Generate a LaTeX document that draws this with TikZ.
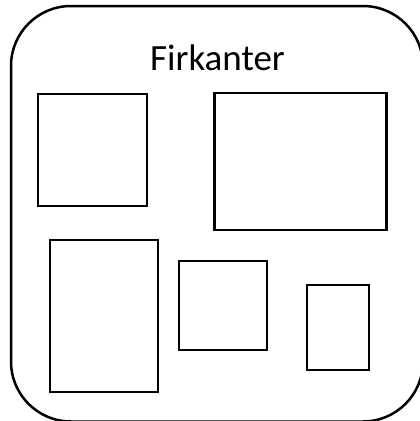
\documentclass[tikz,border=0pt]{standalone}
\usepackage{fontspec}
\setmainfont{Carlito}
\usetikzlibrary{positioning}

\begin{document}
\begin{tikzpicture}[
    x=1pt, y=-1pt,
    frame/.style={rectangle, draw=black, line width=2.5pt, rounded corners=60pt,
                  minimum width=412pt, minimum height=415.5pt, inner sep=0pt},
    square/.style={rectangle, draw=black, line width=2.5pt, inner sep=0pt},
    title/.style={font=\fontsize{37}{44}\selectfont, anchor=base, inner sep=0pt}
]
\useasboundingbox (0,0) rectangle (420,421);
\clip (0,0) rectangle (420,421);

% Container
\node[frame] (box) at (217, 213.75) {};
\node[title] (label) at (217.5, 70) {Firkanter};

% Rectangles
\node[square, minimum width=109pt, minimum height=112pt] (sq1) at (92.5, 150) {};
\node[square, minimum width=172pt, minimum height=137pt] (sq2) at (300.5, 161.5) {};
\node[square, minimum width=108pt, minimum height=152pt] (sq3) at (104, 316) {};
\node[square, minimum width=88pt, minimum height=89pt] (sq4) at (223, 305.5) {};
\node[square, minimum width=62pt, minimum height=85pt] (sq5) at (338, 327.5) {};

\end{tikzpicture}
\end{document}
